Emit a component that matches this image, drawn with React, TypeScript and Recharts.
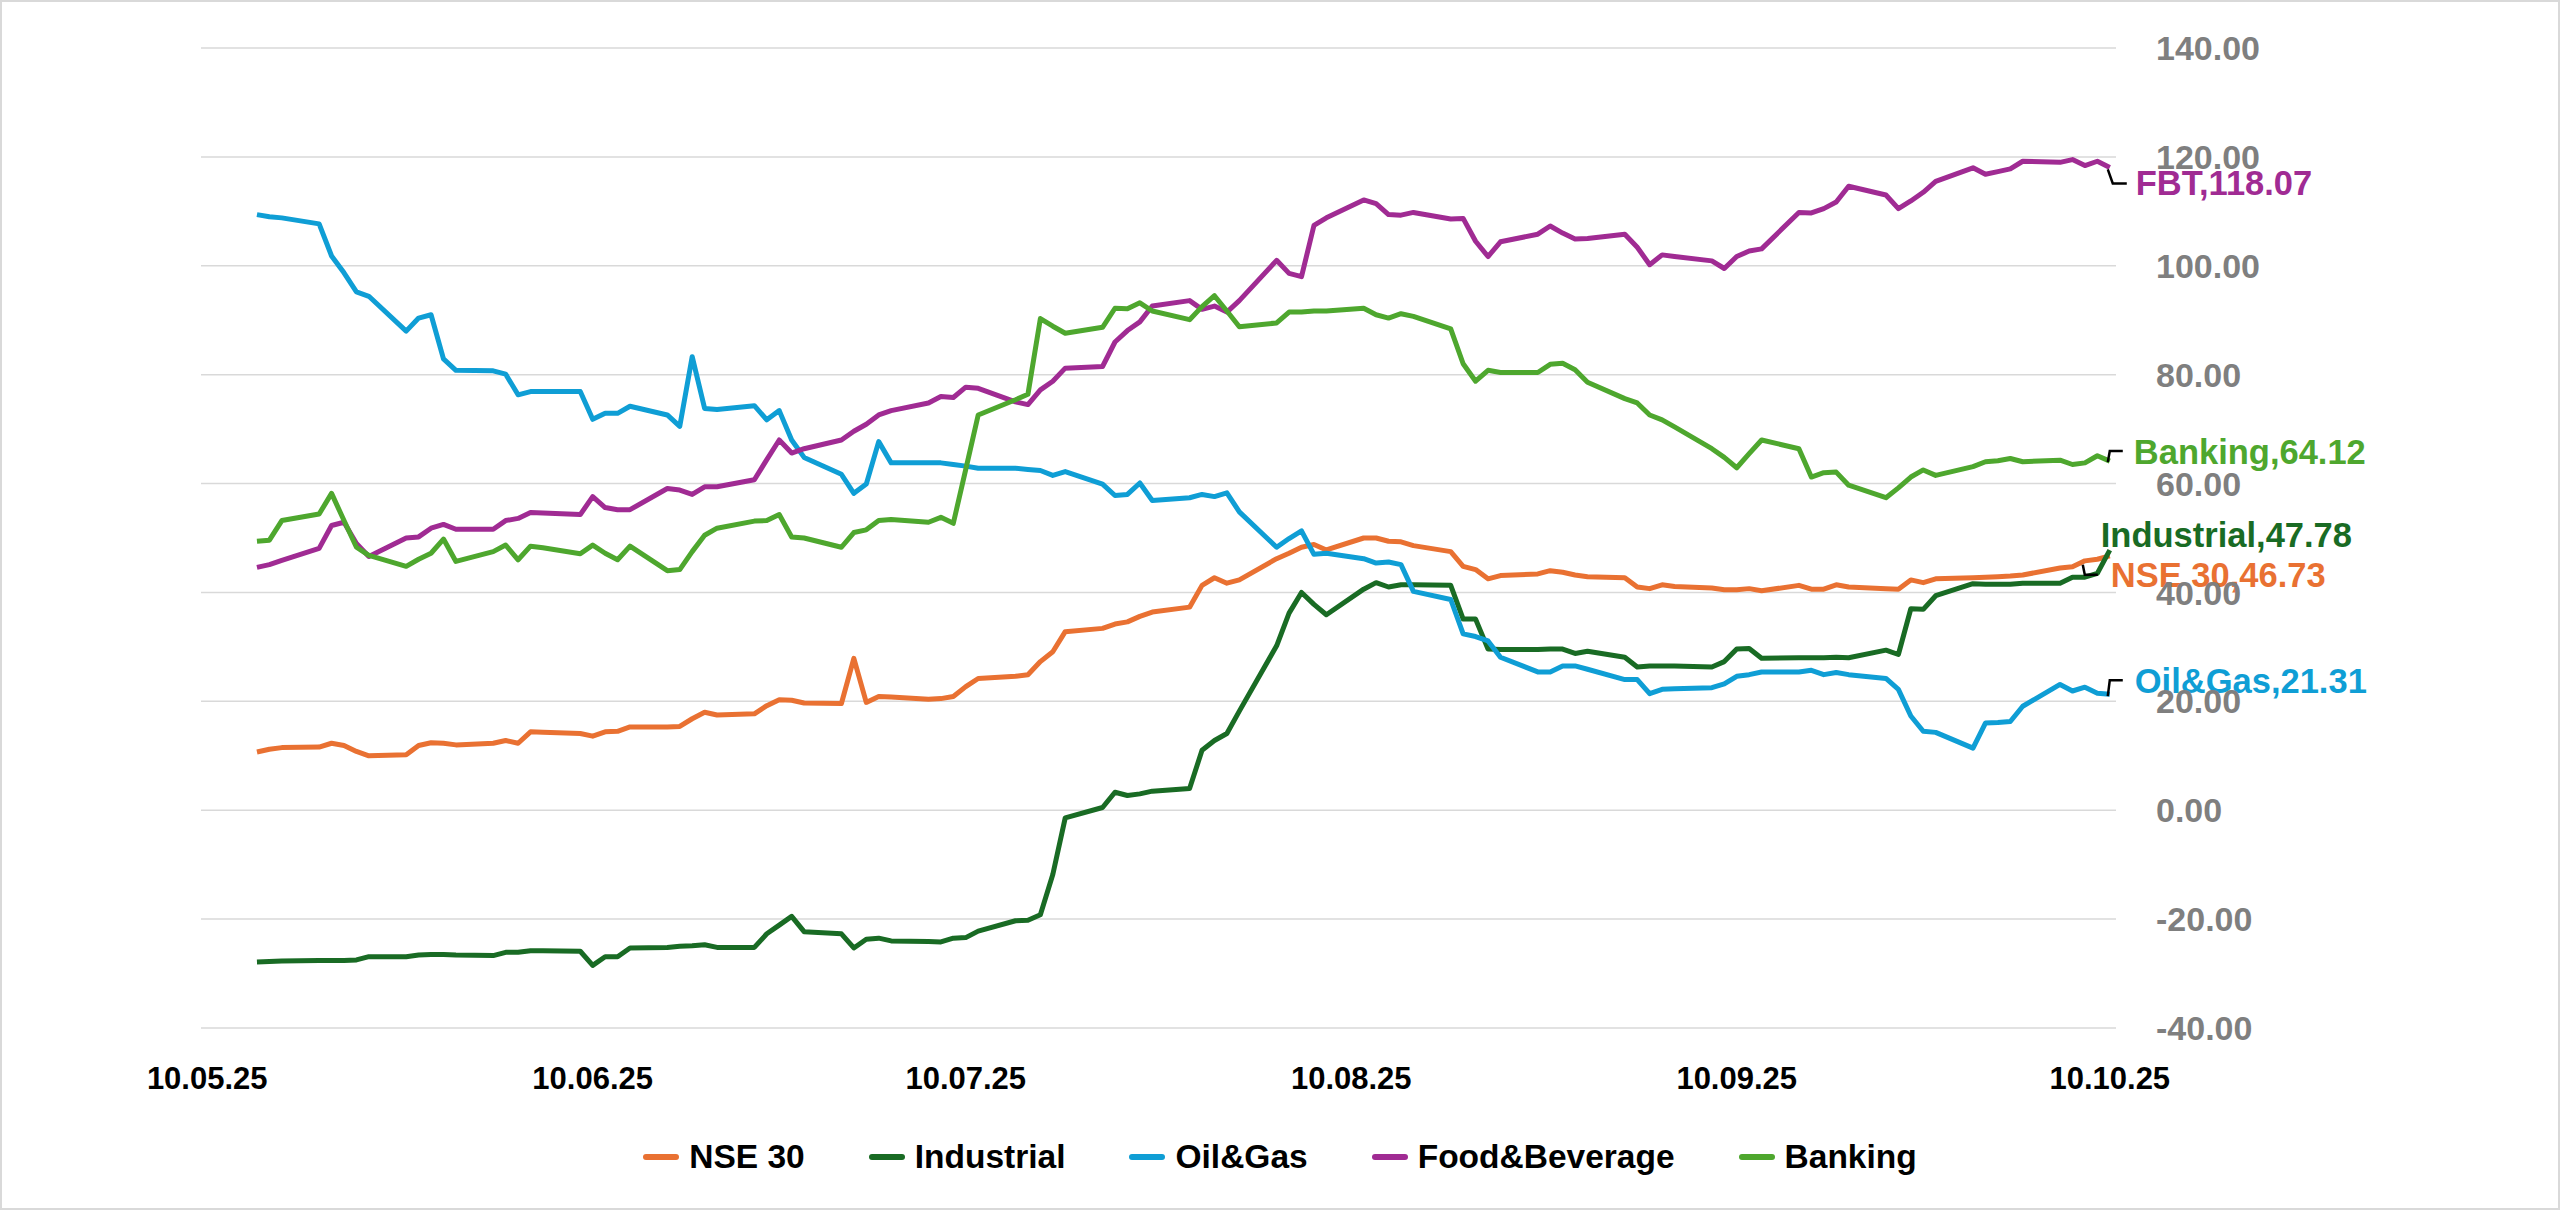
import {
  CartesianGrid,
  Legend,
  Line,
  LineChart,
  ReferenceDot,
  XAxis,
  YAxis,
} from 'recharts'

const dates = [
  '2025-05-14', '2025-05-15', '2025-05-16', '2025-05-19', '2025-05-20', '2025-05-21', '2025-05-22',
  '2025-05-23', '2025-05-26', '2025-05-27', '2025-05-28', '2025-05-29', '2025-05-30',
  '2025-06-02', '2025-06-03', '2025-06-04', '2025-06-05', '2025-06-06', '2025-06-09', '2025-06-10',
  '2025-06-11', '2025-06-12', '2025-06-13', '2025-06-16', '2025-06-17', '2025-06-18', '2025-06-19',
  '2025-06-20', '2025-06-23', '2025-06-24', '2025-06-25', '2025-06-26', '2025-06-27', '2025-06-30',
  '2025-07-01', '2025-07-02', '2025-07-03', '2025-07-04', '2025-07-07', '2025-07-08', '2025-07-09',
  '2025-07-10', '2025-07-11', '2025-07-14', '2025-07-15', '2025-07-16', '2025-07-17', '2025-07-18',
  '2025-07-21', '2025-07-22', '2025-07-23', '2025-07-24', '2025-07-25', '2025-07-28', '2025-07-29',
  '2025-07-30', '2025-07-31',
  '2025-08-01', '2025-08-04', '2025-08-05', '2025-08-06', '2025-08-07', '2025-08-08', '2025-08-11',
  '2025-08-12', '2025-08-13', '2025-08-14', '2025-08-15', '2025-08-18', '2025-08-19', '2025-08-20',
  '2025-08-21', '2025-08-22', '2025-08-25', '2025-08-26', '2025-08-27', '2025-08-28', '2025-08-29',
  '2025-09-01', '2025-09-02', '2025-09-03', '2025-09-04', '2025-09-05', '2025-09-08', '2025-09-09',
  '2025-09-10', '2025-09-11', '2025-09-12', '2025-09-15', '2025-09-16', '2025-09-17', '2025-09-18',
  '2025-09-19', '2025-09-22', '2025-09-23', '2025-09-24', '2025-09-25', '2025-09-26', '2025-09-29',
  '2025-09-30',
  '2025-10-01', '2025-10-02', '2025-10-03', '2025-10-06', '2025-10-07', '2025-10-08', '2025-10-09',
  '2025-10-10',
]

const nse30 = [
  10.7, 11.2, 11.5, 11.6, 12.3, 11.9, 10.8, 10.0, 10.2, 11.9, 12.4, 12.3, 12.0,
  12.3, 12.8, 12.3, 14.4, 14.3, 14.1, 13.6, 14.4, 14.5, 15.3, 15.3, 15.4, 16.8, 18.0, 17.5, 17.7,
  19.2, 20.3, 20.2, 19.7, 19.6,
  27.9, 19.8, 20.9, 20.8, 20.4, 20.5, 20.9, 22.7, 24.2, 24.6, 24.9, 27.3, 29.1, 32.8, 33.4, 34.2,
  34.6, 35.6, 36.4, 37.3, 41.3, 42.7, 41.7,
  42.3, 46.2, 47.2, 48.3, 48.8, 47.8, 50.0, 50.0, 49.4, 49.3, 48.6, 47.5, 44.8, 44.2, 42.5, 43.1,
  43.4, 44.0, 43.7, 43.2, 42.9,
  42.7, 41.0, 40.7, 41.4, 41.1, 40.8, 40.5, 40.5, 40.7, 40.3, 41.3, 40.6, 40.6, 41.4, 41.0, 40.7,
  40.6, 42.3, 41.8, 42.5, 42.7, 42.8,
  42.9, 43.0, 43.2, 44.5, 44.7, 45.8, 46.1, 46.73,
]

const industrial = [
  -27.9, -27.8, -27.7, -27.6, -27.6, -27.6, -27.5, -26.9, -26.9, -26.6, -26.5, -26.5, -26.6,
  -26.7, -26.1, -26.1, -25.8, -25.8, -25.9, -28.5, -26.9, -26.9, -25.3, -25.2, -25.0, -24.9, -24.7,
  -25.2, -25.2, -22.7, -21.1, -19.5, -22.3, -22.7,
  -25.3, -23.7, -23.5, -24.0, -24.1, -24.2, -23.5, -23.4, -22.2, -20.3, -20.2, -19.2, -11.8, -1.4,
  0.5, 3.3, 2.7, 3.0, 3.5, 4.0, 11.0, 12.8, 14.1,
  18.2, 30.2, 36.2, 40.0, 37.8, 35.9, 40.6, 41.8, 41.0, 41.4, 41.4, 41.3, 35.1, 35.1, 29.6, 29.5,
  29.5, 29.6, 29.6, 28.8, 29.2,
  28.1, 26.3, 26.5, 26.5, 26.5, 26.3, 27.3, 29.6, 29.7, 27.9, 28.0, 28.0, 28.0, 28.1, 28.0, 29.4,
  28.6, 37.0, 36.9, 39.4, 41.6, 41.5,
  41.5, 41.5, 41.7, 41.7, 42.8, 42.8, 43.5, 47.78,
]

const oilGas = [
  109.4, 109.0, 108.8, 107.7, 101.8, 98.7, 95.2, 94.4, 88.0, 90.4, 91.0, 82.9, 80.8,
  80.7, 80.1, 76.3, 76.9, 76.9, 76.9, 71.8, 72.9, 72.9, 74.2, 72.6, 70.5, 83.3, 73.8, 73.6, 74.3,
  71.7, 73.4, 68.0, 64.8, 61.7,
  58.2, 59.9, 67.7, 63.8, 63.8, 63.8, 63.5, 63.2, 62.8, 62.8, 62.6, 62.4, 61.5, 62.2, 59.9, 57.8,
  58.0, 60.1, 56.9, 57.4, 58.0, 57.6, 58.3,
  54.8, 48.3, 49.9, 51.3, 47.0, 47.2, 46.2, 45.4, 45.6, 45.1, 40.2, 38.7, 32.4, 31.9, 31.1, 28.1,
  25.4, 25.4, 26.5, 26.5, 25.9,
  24.0, 24.0, 21.4, 22.2, 22.3, 22.5, 23.2, 24.6, 24.9, 25.4, 25.4, 25.7, 24.9, 25.3, 24.9, 24.2,
  22.2, 17.3, 14.5, 14.3, 11.4, 16.0,
  16.1, 16.3, 19.1, 23.1, 21.9, 22.6, 21.5, 21.31,
]

const foodBeverage = [
  44.6, 45.1, 45.9, 48.1, 52.3, 52.9, 49.0, 46.6, 50.0, 50.2, 51.8, 52.5, 51.6,
  51.6, 53.2, 53.6, 54.7, 54.6, 54.3, 57.6, 55.6, 55.2, 55.2, 59.1, 58.8, 58.0, 59.4, 59.4, 60.7,
  64.4, 68.0, 65.6, 66.4, 68.0,
  69.6, 70.9, 72.6, 73.4, 74.8, 76.0, 75.8, 77.7, 77.5, 75.0, 74.5, 77.2, 78.8, 81.2, 81.5, 86.0,
  88.1, 89.7, 92.6, 93.6, 92.0, 92.6, 91.5,
  93.6, 101.0, 98.6, 98.0, 107.4, 108.8, 112.1, 111.4, 109.4, 109.3, 109.8, 108.6, 108.7, 104.5,
  101.7, 104.4, 105.8, 107.3, 106.0, 104.9, 105.0,
  105.8, 103.4, 100.2, 102.0, 101.7, 100.9, 99.5, 101.7, 102.7, 103.1, 109.8, 109.7, 110.5, 111.7,
  114.6, 113.0, 110.5, 111.9, 113.5, 115.5, 118.0, 116.8,
  117.3, 117.8, 119.2, 119.0, 119.5, 118.4, 119.2, 118.07,
]

const banking = [
  49.4, 49.6, 53.2, 54.4, 58.2, 53.2, 48.3, 46.8, 44.8, 46.1, 47.2, 49.8, 45.7,
  47.5, 48.7, 46.0, 48.5, 48.2, 47.1, 48.7, 47.2, 46.0, 48.5, 44.0, 44.2, 47.5, 50.5, 51.8, 53.1,
  53.2, 54.3, 50.2, 50.0, 48.3,
  51.0, 51.5, 53.2, 53.4, 52.9, 53.8, 52.7, 62.6, 72.6, 75.4, 76.4, 90.3, 88.9, 87.6, 88.7, 92.2,
  92.1, 93.2, 91.7, 90.1, 92.5, 94.5, 91.7,
  88.8, 89.5, 91.5, 91.5, 91.7, 91.7, 92.2, 91.0, 90.4, 91.2, 90.7, 88.4, 82.0, 78.8, 80.8, 80.4,
  80.4, 81.9, 82.1, 80.9, 78.6,
  75.6, 74.8, 72.6, 71.7, 70.4, 66.4, 64.8, 62.9, 65.5, 68.0, 66.4, 61.2, 62.0, 62.1, 59.7, 57.4,
  59.2, 61.2, 62.5, 61.5, 63.1, 64.0,
  64.2, 64.6, 64.0, 64.3, 63.5, 63.8, 65.1, 64.12,
]

const seriesKeys = ['nse30', 'industrial', 'oilGas', 'foodBeverage', 'banking']
const seriesNames = ['NSE 30', 'Industrial', 'Oil&Gas', 'Food&Beverage', 'Banking']
const labelNames = ['NSE 30', 'Industrial', 'Oil&Gas', 'FBT', 'Banking']
const seriesValues = [nse30, industrial, oilGas, foodBeverage, banking]

const tickDates = ['2025-05-10', '2025-06-10', '2025-07-10', '2025-08-10', '2025-09-10', '2025-10-10']
const yTicks = [-40, -20, 0, 20, 40, 60, 80, 100, 120, 140]

const COLORS = ['#E97132', '#196B24', '#0F9ED5', '#A02B93', '#4EA72E']
const FONT = '"Liberation Sans", Arial, sans-serif'

// leader line points and text offset, relative to the last point
const END_LABEL_STYLE = [
  { leader: [[-27, 9], [-25, 19], [-12, 19]], dx: 1, dy: 19 },
  { leader: null, dx: -9, dy: -15 },
  { leader: [[-2, 2], [0, -14], [13, -14]], dx: 25, dy: -13 },
  { leader: [[-2, 2], [3, 16], [17, 16]], dx: 26, dy: 16 },
  { leader: [[-2, 1], [0, -10], [13, -10]], dx: 24, dy: -9 },
]

const START = Date.UTC(2025, 4, 10)
const toX = (iso: string) => {
  const [y, m, d] = iso.split('-').map(Number)
  return (Date.UTC(y, m - 1, d) - START) / 86400000 + 0.5
}
const tickLabel = (iso: string) => {
  const [y, m, d] = iso.split('-')
  return `${d}.${m}.${y.slice(2)}`
}

const data = dates.map((date, i) => {
  const row: Record<string, number | string> = { date, x: toX(date) }
  seriesKeys.forEach((key, s) => {
    row[key] = seriesValues[s][i]
  })
  return row
})

const xTicks = tickDates.map(toX)
const xTickLabels: Record<number, string> = {}
tickDates.forEach((d) => {
  xTickLabels[toX(d)] = tickLabel(d)
})

function EndLabel({ cx, cy, s }: { cx: number; cy: number; s: number }) {
  const style = END_LABEL_STYLE[s]
  const last = seriesValues[s][seriesValues[s].length - 1]
  return (
    <g>
      {style.leader && (
        <polyline
          points={style.leader.map(([dx, dy]) => `${cx + dx},${cy + dy}`).join(' ')}
          fill="none"
          stroke="#000"
          strokeWidth={2.5}
        />
      )}
      <text
        x={cx + style.dx}
        y={cy + style.dy}
        dominantBaseline="central"
        fill={COLORS[s]}
        fontFamily={FONT}
        fontWeight={700}
        fontSize={34.5}
      >
        {`${labelNames[s]},${last.toFixed(2)}`}
      </text>
    </g>
  )
}

function LegendContent() {
  return (
    <div
      style={{
        height: 70,
        display: 'flex',
        alignItems: 'center',
        justifyContent: 'center',
        gap: 64,
        fontFamily: FONT,
        fontWeight: 700,
        fontSize: 33.5,
        color: '#000',
      }}
    >
      {seriesNames.map((name, i) => (
        <div key={name} style={{ display: 'flex', alignItems: 'center', gap: 10 }}>
          <span
            style={{
              display: 'inline-block',
              width: 36,
              height: 6,
              borderRadius: 3,
              background: COLORS[i],
            }}
          />
          <span>{name}</span>
        </div>
      ))}
    </div>
  )
}

export default function App() {
  return (
    <div
      style={{
        position: 'absolute',
        left: 0,
        top: 0,
        width: 2560,
        height: 1210,
        background: '#fff',
        boxSizing: 'border-box',
        border: '2px solid #d9d9d9',
      }}
    >
      <LineChart
        width={2556}
        height={1206}
        data={data}
        margin={{ top: 46, right: 20, left: 199, bottom: 16 }}
      >
        <CartesianGrid vertical={false} stroke="#d9d9d9" strokeWidth={1.5} />
        <XAxis
          dataKey="x"
          type="number"
          domain={[0, 154]}
          ticks={xTicks}
          tickFormatter={(v: number) => xTickLabels[v] ?? ''}
          axisLine={false}
          tickLine={false}
          tickMargin={33}
          height={94}
          tick={{ fontSize: 31, fontWeight: 700, fill: '#000', fontFamily: FONT }}
        />
        <YAxis
          orientation="right"
          domain={[-40, 140]}
          ticks={yTicks}
          tickFormatter={(v: number) => v.toFixed(2)}
          axisLine={false}
          tickLine={false}
          tickMargin={34}
          width={422}
          tick={{ fontSize: 34, fontWeight: 700, fill: '#7F7F7F', fontFamily: FONT }}
        />
        <Legend
          verticalAlign="bottom"
          content={() => <LegendContent />}
          wrapperStyle={{ left: 0, width: 2556 }}
        />
        {seriesKeys.map((key, i) => (
          <Line
            key={key}
            dataKey={key}
            name={seriesNames[i]}
            type="linear"
            stroke={COLORS[i]}
            strokeWidth={5}
            strokeLinejoin="round"
            dot={false}
            activeDot={false}
            isAnimationActive={false}
          />
        ))}
        {seriesKeys.map((key, i) => (
          <ReferenceDot
            key={`end-${key}`}
            x={data[data.length - 1].x as number}
            y={seriesValues[i][seriesValues[i].length - 1]}
            r={0}
            ifOverflow="visible"
            shape={(p: { cx: number; cy: number }) => <EndLabel cx={p.cx} cy={p.cy} s={i} />}
          />
        ))}
      </LineChart>
    </div>
  )
}
